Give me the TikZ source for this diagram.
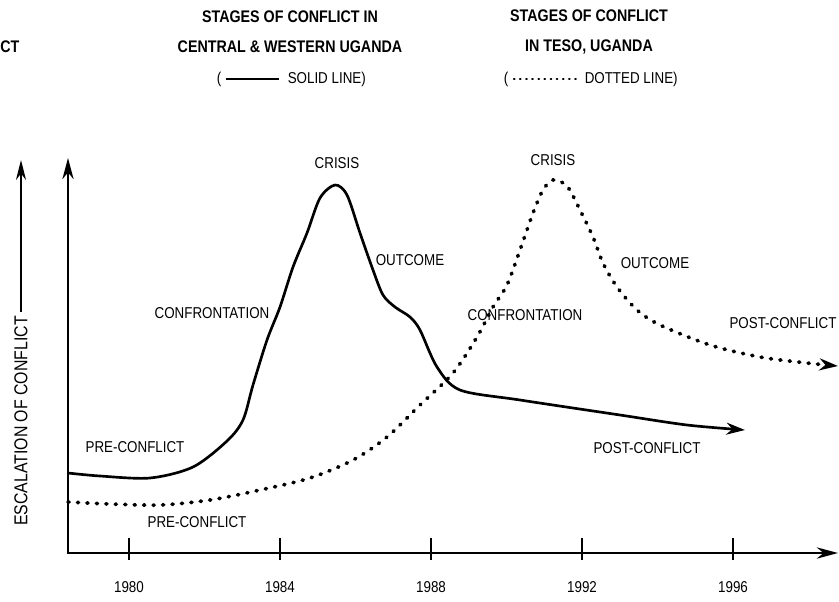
\documentclass[tikz,border=0pt]{standalone}
\usepackage{fontspec}
\setmainfont{Liberation Sans}[FakeStretch=0.85]
\usepackage{tikz}
\usetikzlibrary{positioning, arrows.meta}
\tikzstyle{axis} = [line width=1.5pt, {Stealth[length=16pt,width=8.5pt]}-{Stealth[length=16pt,width=8.5pt]}]
\tikzstyle{trend} = [line width=2pt, -{Stealth[length=14pt,width=9pt]}]

\begin{document}
\begin{tikzpicture}[x=0.75pt, y=-0.75pt,
labelnode/.style={font=\fontsize{11.8}{13}\selectfont, inner sep=1pt},
titlenode/.style={font=\bfseries\fontsize{12.6}{22.5}\selectfont, align=center, inner sep=1pt},
dotline/.style={line width=2.8pt, dash pattern=on 0.8pt off 6.3pt, line cap=round},
tick/.style={line width=1pt},]
\useasboundingbox[fill=white] (0,0) rectangle (839,601);
%Titles
\node[titlenode, anchor=west, inner sep=0pt] (cutCT) at (0,47) {CT};
\node[titlenode] (titleCW) at (290,32) {STAGES OF CONFLICT IN\\CENTRAL \& WESTERN UGANDA};
\node[titlenode] (titleT)  at (589,32) {STAGES OF CONFLICT\\IN TESO, UGANDA};
\node[labelnode] (lparCW) at (219,79) {(};
\node[labelnode, right=47.5pt of lparCW] (solidCW) {SOLID LINE)};
\node[labelnode] (lparT) at (506,79) {(};
\node[labelnode, right=55pt of lparT] (dottedT) {DOTTED LINE)};
\draw[line width=1.2pt, shorten <=2.5pt, shorten >=5pt] (lparCW.east) -- (solidCW.west);
\draw[line width=1.6pt, dash pattern=on 0.5pt off 4.1pt, line cap=round, shorten <=3pt, shorten >=5pt] (lparT.east) -- (dottedT.west);

%Axes
\coordinate (origin) at (68,553);
\coordinate (ytop) at (68,158);
\coordinate (xend) at (838,553);
\coordinate (escTop) at (22,160);
\draw[axis] (ytop) -- (origin) -- (xend);
\node[labelnode, rotate=90, font=\fontsize{14}{16}\selectfont] (escal) at (21,421) {ESCALATION OF CONFLICT};
\draw[line width=1pt, -{Stealth[length=15pt,width=7.5pt]}, shorten <=2pt] (escal.east) -- (escal.east |- escTop);
\foreach \yr [count=\i from 0] in {1980,1984,1988,1992,1996}
{
\draw[tick] (129+151*\i,538) -- (129+151*\i,560);
\node[labelnode] (y\yr) at (129+151*\i,587) {\yr};
}

%Curves
\draw[trend] plot[smooth] coordinates {(68,473) (100,476) (150,478) (193,467) (227,441) (243,420) (253,385) (267,340) (280,307) (293,267) (307,233) (320,198) (335,185) (347,195) (360,233) (373,270) (383,295) (395,307) (410,317) (420,330) (437,367) (460,390) (520,400) (620,415) (687,425) (745,430)};
\draw[trend, dotline] plot[smooth] coordinates {(68,502) (110,504) (160,505) (210,500) (260,490) (310,478) (353,460) (387,437) (420,405) (453,373) (477,337) (493,307) (507,285) (520,250) (533,213) (543,190) (553,180) (567,186) (580,210) (593,237) (603,263) (617,287) (637,310) (660,325) (710,345) (760,357) (807,363) (838,366)};

%Stage labels
\node[labelnode] (preCW)      at (135,447) {PRE-CONFLICT};
\node[labelnode] (confrontCW) at (212,313) {CONFRONTATION};
\node[labelnode] (crisisCW)   at (337,163) {CRISIS};
\node[labelnode] (outcomeCW)  at (410,260) {OUTCOME};
\node[labelnode] (postCW)     at (647,448) {POST-CONFLICT};
\node[labelnode] (preT)       at (197,522) {PRE-CONFLICT};
\node[labelnode] (confrontT)  at (525,315) {CONFRONTATION};
\node[labelnode] (crisisT)    at (553,160) {CRISIS};
\node[labelnode] (outcomeT)   at (655,263) {OUTCOME};
\node[labelnode] (postT)      at (783,323) {POST-CONFLICT};
\end{tikzpicture}
\end{document}
